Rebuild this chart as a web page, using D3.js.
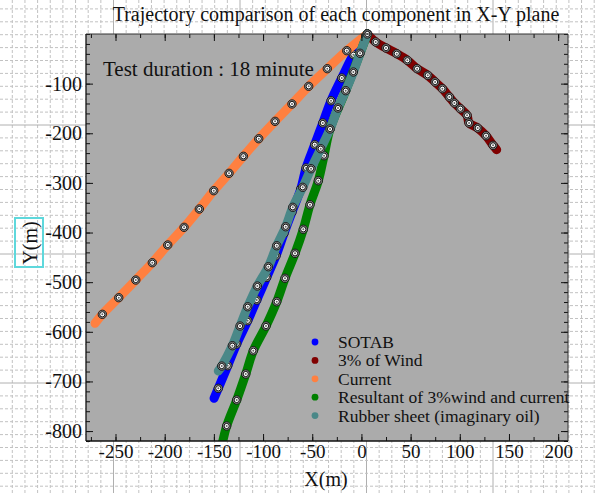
<!DOCTYPE html>
<html><head><meta charset="utf-8">
<script src="https://cdn.jsdelivr.net/npm/d3@7/dist/d3.min.js"></script>
<style>
html,body{margin:0;padding:0;background:#fff;}
svg text{font-family:"Liberation Serif","Times New Roman",serif;fill:#111;}
</style></head>
<body>
<svg id="chart" width="595" height="493"></svg>
<script>
// ---------- data ----------
const xTickValues = [-250,-200,-150,-100,-50,0,50,100,150,200];
const yTickValues = [-100,-200,-300,-400,-500,-600,-700,-800];
const seriesNames = ["SOTAB","3% of Wind","Current","Resultant of 3%wind and current","Rubber sheet (imaginary oil)"];
const seriesColors = ["#0000ff","#800000","#ff8040","#008000","#4a8888"];

const sotabX = [6,-8.2,-20,-30.9,-39.3,-47.5,-56.3,-61.7,-70.6,-78.7,-86.8,-96.3,-106.4,-115.6,-126.8,-135.9,-145.5,-149.8];
const sotabY = [0,-41.7,-88.7,-134.4,-179.3,-223,-270,-312.3,-358.7,-401.6,-446.7,-490.2,-536,-577.7,-624.6,-668.3,-713.9,-734];

const windX = [6,14.5,25,35.9,46.7,56.6,67.4,74.9,82.3,89.4,94.5,100.6,107.4,109.4,118.2,126.7,133.8,137.5];
const windY = [0,-16.1,-28.2,-39.7,-53,-69.9,-83.2,-96.7,-110.2,-126.9,-139,-150.5,-163.8,-179.3,-189.4,-204.9,-224.3,-233];

const currentX = [6,-14.9,-34.7,-53.6,-70.6,-87.8,-104.4,-120,-134.6,-150.1,-164.8,-180.3,-196.9,-212.6,-229.4,-246.7,-263.4,-270.8];
const currentY = [0,-33.6,-69.9,-105.4,-141,-176,-211,-246.4,-280.7,-315.7,-352.6,-389.5,-425.1,-460.8,-495.7,-531.3,-564.8,-582.9];

const resultantX = [6,-16,-31.9,-38,-43.8,-52.3,-59.1,-67.5,-77.7,-86.1,-97,-109.9,-117.6,-126.8,-137,-142];
const resultantY = [0,-114.2,-191.4,-245.2,-295.6,-344,-393.5,-441.9,-492.2,-539.4,-588.3,-638.1,-685.1,-737.4,-789.8,-830];

const rubberX = [6,-1.4,-8.2,-16,-23.8,-31.9,-41.4,-51.2,-59.7,-69.8,-77,-86.1,-94.6,-105.8,-115.6,-123.4,-131.2,-142,-145.5];
const rubberY = [0,-38.9,-76.6,-114.2,-149.1,-191.4,-231.1,-271.4,-308.9,-349.2,-388.3,-426.6,-468.9,-507.8,-549.5,-588.4,-628,-669,-679];

const seriesX = [sotabX, windX, currentX, resultantX, rubberX];
const seriesY = [sotabY, windY, currentY, resultantY, rubberY];

// ---------- layout ----------
const svg = d3.select("#chart");
const W = 595, H = 493;
const L = 86, R = 568, T = 34, B = 441;

const x = d3.scaleLinear().domain([-280, 210]).range([L, R]);
const y = d3.scaleLinear().domain([0, -820]).range([T, B]);

// background "graph paper" grid
const gridG = svg.append("g");
const vStep = 12.65, hStep = 12.9;
for (let k = -30; k <= 30; k++) {
  const gx = 240 + k * vStep;
  if (gx < 0 || gx > W) continue;
  gridG.append("line").attr("x1", gx).attr("x2", gx).attr("y1", 0).attr("y2", H)
    .attr("stroke", k % 10 === 0 ? "#b0b0b0" : "#c2c2c2").attr("stroke-width", 1)
    .attr("stroke-dasharray", k % 10 === 0 ? null : "3,2");
}
for (let k = -30; k <= 30; k++) {
  const gy = 254 + k * hStep;
  if (gy < 0 || gy > H) continue;
  gridG.append("line").attr("y1", gy).attr("y2", gy).attr("x1", 0).attr("x2", W)
    .attr("stroke", k % 10 === 0 ? "#b0b0b0" : "#c2c2c2").attr("stroke-width", 1)
    .attr("stroke-dasharray", k % 10 === 0 ? null : "3,2");
}

// plot background
svg.append("rect").attr("x", L).attr("y", T).attr("width", R - L).attr("height", B - T).attr("fill", "#ababab");

svg.append("clipPath").attr("id", "clip").append("rect")
  .attr("x", L).attr("y", T - 6).attr("width", R - L).attr("height", B - T + 6);

const plotG = svg.append("g").attr("clip-path", "url(#clip)");
const line = d3.line().x(d => x(d[0])).y(d => y(d[1])).curve(d3.curveCatmullRom.alpha(0.5));

seriesX.forEach((xs, i) => {
  const pts = xs.map((v, j) => [v, seriesY[i][j]]);
  plotG.append("path").datum(pts).attr("d", line)
    .attr("fill", "none").attr("stroke", seriesColors[i]).attr("stroke-width", 9)
    .attr("stroke-linecap", "round").attr("stroke-linejoin", "round");
  const marks = plotG.append("g").selectAll("g").data(pts.slice(0, -1)).join("g")
    .attr("transform", d => `translate(${x(d[0])},${y(d[1])})`);
  marks.append("circle").attr("r", 4.2).attr("fill", "#8c8c8c").attr("stroke", "#111").attr("stroke-width", 0.9);
  marks.append("circle").attr("r", 2.6).attr("fill", "#fff").attr("stroke", "#000").attr("stroke-width", 0.9);
  marks.append("circle").attr("r", 1.0).attr("fill", "#666");
});

// axes
const minorX = d3.range(-275, 211, 25);
const minorY = d3.range(0, -821, -20);
function clean(g) { g.select(".domain").remove(); g.selectAll("line").attr("stroke", "#111"); }

svg.append("g").attr("transform", `translate(0,${B})`)
  .call(d3.axisBottom(x).tickValues(minorX).tickSize(-4).tickFormat("")).call(clean);
svg.append("g").attr("transform", `translate(0,${B})`)
  .call(d3.axisBottom(x).tickValues(xTickValues).tickSize(-7).tickPadding(4).tickFormat(d => d < 0 ? "-" + Math.abs(d) : d))
  .call(clean).selectAll("text").attr("font-size", 19).attr("font-family", "Liberation Serif, serif").attr("fill", "#111");
svg.append("g").attr("transform", `translate(0,${T})`)
  .call(d3.axisTop(x).tickValues(minorX).tickSize(-4).tickFormat("")).call(clean);
svg.append("g").attr("transform", `translate(0,${T})`)
  .call(d3.axisTop(x).tickValues(xTickValues).tickSize(-7).tickFormat("")).call(clean);

svg.append("g").attr("transform", `translate(${L},0)`)
  .call(d3.axisLeft(y).tickValues(minorY).tickSize(-4).tickFormat("")).call(clean);
svg.append("g").attr("transform", `translate(${L},0)`)
  .call(d3.axisLeft(y).tickValues(yTickValues).tickSize(-7).tickPadding(4).tickFormat(d => "-" + Math.abs(d)))
  .call(clean).selectAll("text").attr("font-size", 20).attr("font-family", "Liberation Serif, serif").attr("fill", "#111");
svg.append("g").attr("transform", `translate(${R},0)`)
  .call(d3.axisRight(y).tickValues(minorY).tickSize(-4).tickFormat("")).call(clean);
svg.append("g").attr("transform", `translate(${R},0)`)
  .call(d3.axisRight(y).tickValues(yTickValues).tickSize(-7).tickFormat("")).call(clean);

// frame
svg.append("line").attr("x1", L).attr("x2", L).attr("y1", T).attr("y2", B).attr("stroke", "#111").attr("stroke-width", 1.3);
svg.append("line").attr("x1", L).attr("x2", R).attr("y1", B).attr("y2", B).attr("stroke", "#111").attr("stroke-width", 1.3);
svg.append("line").attr("x1", L).attr("x2", R).attr("y1", T).attr("y2", T).attr("stroke", "#333").attr("stroke-width", 1);
svg.append("line").attr("x1", R).attr("x2", R).attr("y1", T).attr("y2", B).attr("stroke", "#333").attr("stroke-width", 1);

// texts
svg.append("text").attr("x", 336).attr("y", 21).attr("text-anchor", "middle").attr("font-size", 20)
  .text("Trajectory comparison of each component in X-Y plane");
svg.append("text").attr("x", 103).attr("y", 76).attr("font-size", 21).text("Test duration : 18 minute");
svg.append("text").attr("x", 326).attr("y", 486).attr("text-anchor", "middle").attr("font-size", 20).text("X(m)");
svg.append("rect").attr("x", 15).attr("y", 218).attr("width", 28).attr("height", 49)
  .attr("fill", "none").attr("stroke", "#5fd8dc").attr("stroke-width", 2);
svg.append("text").attr("transform", "translate(37,243) rotate(-90)").attr("text-anchor", "middle").attr("font-size", 20).text("Y(m)");

// legend
const leg = svg.append("g");
seriesNames.forEach((n, i) => {
  const ly = 348 + i * 18.4;
  leg.append("circle").attr("cx", 315).attr("cy", ly - 6).attr("r", 3.4).attr("fill", seriesColors[i]);
  leg.append("text").attr("x", 338).attr("y", ly).attr("font-size", 17.5).text(n);
});
</script>
</body></html>
